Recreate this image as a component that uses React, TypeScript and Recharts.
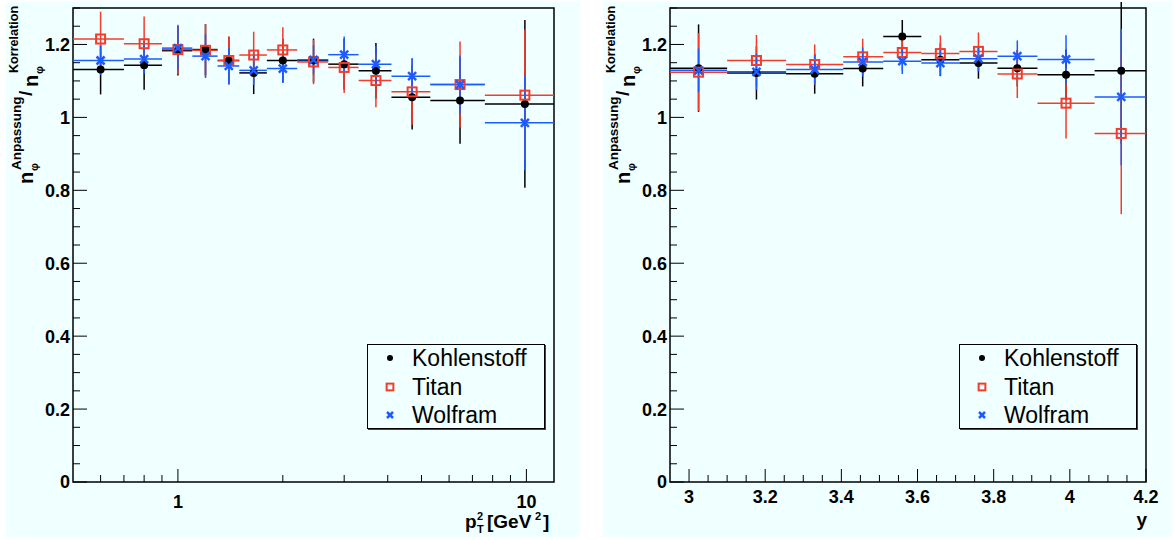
import { ErrorBar, Legend, ReferenceArea, Scatter, ScatterChart, XAxis, YAxis } from "recharts"

// p_T^2 bins (left panel)
const ptEdges = [0.5, 0.7, 0.9, 1.1, 1.3, 1.5, 1.8, 2.2, 2.7, 3.3, 4.1, 5.3, 7.6, 12]
const ptCenters = [0.6, 0.8, 1.0, 1.2, 1.4, 1.65, 2.0, 2.45, 3.0, 3.7, 4.7, 6.45, 9.9]
const ptKohlenstoff = [1.131, 1.143, 1.183, 1.186, 1.156, 1.122, 1.156, 1.156, 1.146, 1.128, 1.055, 1.046, 1.037]
const ptKohlenstoffErr = [0.068, 0.067, 0.068, 0.07, 0.065, 0.058, 0.06, 0.06, 0.07, 0.076, 0.088, 0.118, 0.23]
const ptTitan = [1.215, 1.202, 1.186, 1.184, 1.156, 1.171, 1.185, 1.152, 1.137, 1.101, 1.07, 1.09, 1.061]
const ptTitanErr = [0.075, 0.075, 0.068, 0.072, 0.066, 0.064, 0.062, 0.061, 0.07, 0.073, 0.09, 0.118, 0.18]
const ptWolfram = [1.156, 1.16, 1.19, 1.168, 1.141, 1.129, 1.134, 1.158, 1.172, 1.146, 1.113, 1.09, 0.985]
const ptWolframErr = [0.04, 0.04, 0.06, 0.06, 0.05, 0.04, 0.04, 0.04, 0.05, 0.05, 0.05, 0.08, 0.13]

// rapidity bins (right panel)
const yEdges = [2.95, 3.1, 3.255, 3.405, 3.51, 3.61, 3.71, 3.81, 3.915, 4.065, 4.2]
const yCenters = [3.025, 3.177, 3.33, 3.456, 3.56, 3.66, 3.76, 3.862, 3.99, 4.135]
const yKohlenstoff = [1.135, 1.122, 1.12, 1.134, 1.222, 1.158, 1.149, 1.135, 1.117, 1.128]
const yKohlenstoffErr = [0.12, 0.073, 0.055, 0.049, 0.045, 0.045, 0.043, 0.05, 0.07, 0.2]
const yTitan = [1.124, 1.156, 1.145, 1.166, 1.178, 1.175, 1.181, 1.119, 1.039, 0.956]
const yTitanErr = [0.107, 0.07, 0.055, 0.05, 0.05, 0.05, 0.052, 0.066, 0.097, 0.222]
const yWolfram = [1.129, 1.125, 1.131, 1.152, 1.154, 1.149, 1.161, 1.168, 1.159, 1.056]
const yWolframErr = [0.06, 0.05, 0.04, 0.04, 0.035, 0.035, 0.035, 0.043, 0.066, 0.187]

// ticks
const yMajorTicks = [0, 0.2, 0.4, 0.6, 0.8, 1, 1.2]
const yTickLabels = ["0", "0.2", "0.4", "0.6", "0.8", "1", "1.2"]
const yAllTicks = Array.from({ length: 27 }, (_, i) => Math.round(i * 5) / 100)
const ptAllTicks = [0.6, 0.7, 0.8, 0.9, 1, 2, 3, 4, 5, 6, 7, 8, 9, 10]
const ptMajorTicks = [1, 10]
const ptTickLabels = ["1", "10"]
const rapAllTicks = Array.from({ length: 25 }, (_, i) => Math.round(300 + i * 5) / 100)
const rapMajorTicks = [3, 3.2, 3.4, 3.6, 3.8, 4, 4.2]
const rapTickLabels = ["3", "3.2", "3.4", "3.6", "3.8", "4", "4.2"]

const FONT = '"Liberation Sans", Arial, Helvetica, sans-serif'
const PAD = "#f0ffff"
const RED = "#f43c2c"
const BLUE = "#1c5cff"

const CHART_H = 535
const PLOT_TOP = 6
const PLOT_BOTTOM = 480
const PLOT_LEFT = 67

function buildSeries(centers: number[], edges: number[], values: number[], errors: number[]) {
    return centers.map((x, i) => ({
        x,
        y: values[i],
        ex: [x - edges[i], edges[i + 1] - x],
        ey: errors[i],
    }))
}

const near = (a: number, b: number) => Math.abs(a - b) < 1e-6

const Dot = ({ cx, cy, s = 1 }: any) => <circle cx={cx} cy={cy} fill="#000" r={4 * s} />
const Square = ({ cx, cy, s = 1 }: any) => (
    <rect fill="none" height={9 * s} stroke={RED} strokeWidth={2} width={9 * s} x={cx - 4.5 * s} y={cy - 4.5 * s} />
)
const Cross = ({ cx, cy, s = 1 }: any) => (
    <g stroke={BLUE} strokeWidth={2.5}>
        <line x1={cx - 4 * s} x2={cx + 4 * s} y1={cy - 4 * s} y2={cy + 4 * s} />
        <line x1={cx - 4 * s} x2={cx + 4 * s} y1={cy + 4 * s} y2={cy - 4 * s} />
    </g>
)

const legendItems = [
    { marker: Dot, name: "Kohlenstoff" },
    { marker: Square, name: "Titan" },
    { marker: Cross, name: "Wolfram" },
]

function LegendBox() {
    return (
        <div
            style={{
                background: PAD,
                border: "1px solid #000",
                boxShadow: "1px 1px 0 #444",
                boxSizing: "border-box",
                fontFamily: FONT,
                height: 85,
                position: "relative",
                width: 178,
            }}
        >
            {legendItems.map((item, i) => {
                const M = item.marker
                return (
                    <div key={item.name} style={{ height: 28, left: 0, position: "absolute", top: 13 + i * 28.5 - 14 }}>
                        <svg height={28} style={{ left: 12, position: "absolute", top: 0 }} width={20}>
                            <M cx={10} cy={14} s={0.75} />
                        </svg>
                        <span style={{ fontSize: 23, left: 44, lineHeight: "28px", position: "absolute", top: 0, whiteSpace: "nowrap" }}>
                            {item.name}
                        </span>
                    </div>
                )
            })}
        </div>
    )
}

function YTitle() {
    return (
        <text fill="#000" fontFamily={FONT} fontWeight="bold" transform="translate(27,182) rotate(-90)">
            <tspan fontSize={20} x={0} y={0}>n</tspan>
            <tspan fontSize={11} x={13} y={5}>φ</tspan>
            <tspan fontSize={13.5} x={14} y={-12}>Anpassung</tspan>
            <tspan fontSize={19} x={88} y={-1}>/</tspan>
            <tspan fontSize={20} x={97} y={5}>n</tspan>
            <tspan fontSize={11} x={110} y={10}>φ</tspan>
            <tspan fontSize={12.6} x={111} y={-15}>Korrelation</tspan>
        </text>
    )
}

function PtTitle() {
    return (
        <text fill="#000" fontFamily={FONT} fontWeight="bold">
            <tspan fontSize={19} x={459} y={526}>p</tspan>
            <tspan fontSize={11} x={471} y={518}>2</tspan>
            <tspan fontSize={11} x={471} y={531}>T</tspan>
            <tspan fontSize={19} x={481} y={526}>[GeV</tspan>
            <tspan fontSize={11} x={529} y={518}>2</tspan>
            <tspan fontSize={19} x={537} y={526}>]</tspan>
        </text>
    )
}

function RapTitle() {
    return (
        <text fill="#000" fontFamily={FONT} fontSize={19} fontWeight="bold" textAnchor="end" x={544} y={524}>
            y
        </text>
    )
}

function Panel({
    width,
    left,
    xScale,
    xDomain,
    xTicks,
    xMajors,
    xLabels,
    xLabelY,
    series,
    title,
}: any) {
    const plotRight = width - 26
    const XTick = (p: any) => {
        const v = p.payload.value
        const idx = xMajors.findIndex((m: number) => near(m, v))
        const major = idx >= 0
        return (
            <g>
                <line stroke="#000" x1={p.x} x2={p.x} y1={PLOT_BOTTOM} y2={PLOT_BOTTOM - (major ? 13 : 7)} />
                {major && (
                    <text fill="#000" fontFamily={FONT} fontSize={18} fontWeight="bold" textAnchor="middle" x={p.x} y={xLabelY}>
                        {xLabels[idx]}
                    </text>
                )}
            </g>
        )
    }
    const YTick = (p: any) => {
        const v = p.payload.value
        const idx = yMajorTicks.findIndex((m) => near(m, v))
        const major = idx >= 0
        return (
            <g>
                <line stroke="#000" x1={PLOT_LEFT} x2={PLOT_LEFT + (major ? 14 : 7)} y1={p.y} y2={p.y} />
                {major && (
                    <text
                        dy="0.36em"
                        fill="#000"
                        fontFamily={FONT}
                        fontSize={18}
                        fontWeight="bold"
                        textAnchor="end"
                        x={PLOT_LEFT - 3}
                        y={p.y}
                    >
                        {yTickLabels[idx]}
                    </text>
                )}
            </g>
        )
    }
    return (
        <div style={{ background: PAD, height: CHART_H, left, position: "absolute", top: 2, width }}>
            <ScatterChart height={CHART_H} margin={{ bottom: 0, left: 0, right: 26, top: PLOT_TOP }} width={width}>
                <XAxis
                    allowDataOverflow
                    axisLine={false}
                    dataKey="x"
                    domain={xDomain}
                    height={55}
                    interval={0}
                    label={{ content: title }}
                    scale={xScale}
                    tick={XTick}
                    tickLine={false}
                    tickSize={0}
                    ticks={xTicks}
                    type="number"
                />
                <YAxis
                    allowDataOverflow
                    axisLine={false}
                    dataKey="y"
                    domain={[0, 1.3]}
                    interval={0}
                    label={{ content: YTitle }}
                    tick={YTick}
                    tickLine={false}
                    tickSize={0}
                    ticks={yAllTicks}
                    type="number"
                    width={PLOT_LEFT}
                />
                {series.map((s: any) => (
                    <Scatter data={s.data} isAnimationActive={false} key={s.name} name={s.name} shape={s.shape}>
                        <ErrorBar dataKey="ex" direction="x" isAnimationActive={false} stroke={s.color} strokeWidth={1.5} width={0} />
                        <ErrorBar dataKey="ey" direction="y" isAnimationActive={false} stroke={s.color} strokeWidth={1.5} width={0} />
                    </Scatter>
                ))}
                <ReferenceArea
                    fill="none"
                    ifOverflow="visible"
                    stroke="#000"
                    strokeWidth={1.5}
                    x1={xDomain[0]}
                    x2={xDomain[1]}
                    y1={0}
                    y2={1.3}
                />
                <Legend
                    align="center"
                    content={() => <LegendBox />}
                    layout="vertical"
                    verticalAlign="middle"
                    wrapperStyle={{ height: 85, left: plotRight - 187, top: 342, width: 178 }}
                />
            </ScatterChart>
        </div>
    )
}

const ptSeries = [
    { color: "#000", data: buildSeries(ptCenters, ptEdges, ptKohlenstoff, ptKohlenstoffErr), name: "Kohlenstoff", shape: Dot },
    { color: RED, data: buildSeries(ptCenters, ptEdges, ptTitan, ptTitanErr), name: "Titan", shape: Square },
    { color: BLUE, data: buildSeries(ptCenters, ptEdges, ptWolfram, ptWolframErr), name: "Wolfram", shape: Cross },
]

const rapSeries = [
    { color: "#000", data: buildSeries(yCenters, yEdges, yKohlenstoff, yKohlenstoffErr), name: "Kohlenstoff", shape: Dot },
    { color: RED, data: buildSeries(yCenters, yEdges, yTitan, yTitanErr), name: "Titan", shape: Square },
    { color: BLUE, data: buildSeries(yCenters, yEdges, yWolfram, yWolframErr), name: "Wolfram", shape: Cross },
]

export default function App() {
    return (
        <div style={{ background: "#fff", height: 540, left: 0, position: "fixed", top: 0, width: 1175 }}>
            <Panel
                left={6}
                series={ptSeries}
                title={PtTitle}
                width={574}
                xDomain={[0.5, 12]}
                xLabelY={506}
                xLabels={ptTickLabels}
                xMajors={ptMajorTicks}
                xScale="log"
                xTicks={ptAllTicks}
            />
            <Panel
                left={603}
                series={rapSeries}
                title={RapTitle}
                width={569}
                xDomain={[2.95, 4.2]}
                xLabelY={501}
                xLabels={rapTickLabels}
                xMajors={rapMajorTicks}
                xScale="linear"
                xTicks={rapAllTicks}
            />
        </div>
    )
}
